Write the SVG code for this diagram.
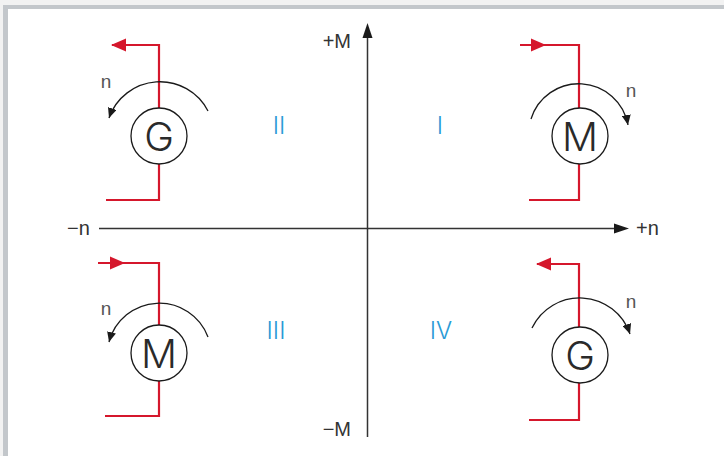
<svg xmlns="http://www.w3.org/2000/svg" width="724" height="456" viewBox="0 0 724 456">
<style>
.red{fill:none;stroke:#d5172c;stroke-width:2.2}
.redhead{fill:#d5172c}
.arc{fill:none;stroke:#1a1a1a;stroke-width:1.3}
.ring{fill:#fff;stroke:#1a1a1a;stroke-width:1.3}
.sym{font-family:Inter,"Liberation Sans",Arial,sans-serif;font-weight:300;font-size:40px;fill:#2a2a2a;text-anchor:middle}
.nlab{font-family:"Liberation Sans",Arial,sans-serif;font-size:19px;fill:#555;text-anchor:middle}
.axlab{font-family:"Liberation Sans",Arial,sans-serif;font-size:20px;fill:#333}
.quad{font-family:Inter,"Liberation Sans",Arial,sans-serif;font-weight:300;font-size:24px;fill:#2a9bd6;text-anchor:middle}
.axis{stroke:#333;stroke-width:1.5;fill:none}
</style>
<defs>
<marker id="arcHead" markerUnits="userSpaceOnUse" markerWidth="11" markerHeight="9" refX="10" refY="4.5" orient="auto">
<path d="M0,0 L10,4.5 L0,9 z" fill="#1a1a1a"/>
</marker>
</defs>
<rect x="0" y="0" width="724" height="456" fill="#f2f2f2"/>
<rect x="3" y="5" width="721" height="451" fill="#c3c7cb"/>
<rect x="8" y="9" width="716" height="447" fill="#ffffff"/>

<g id="axes">
<line class="axis" x1="367.5" y1="36" x2="367.5" y2="437"/>
<path d="M367.5,23 L372.5,38 L362.5,38 z" fill="#1a1a1a"/>
<line class="axis" x1="99" y1="228.5" x2="616" y2="228.5"/>
<path d="M629,228.5 L614,223.5 L614,233.5 z" fill="#1a1a1a"/>
<text class="axlab" x="351" y="48" text-anchor="end">+M</text>
<text class="axlab" x="351" y="436" text-anchor="end">−M</text>
<text class="axlab" x="67" y="235">−n</text>
<text class="axlab" x="636" y="235">+n</text>
</g>

<g id="quadrant-labels">
<text class="quad" x="279" y="134">II</text>
<text class="quad" x="440" y="134">I</text>
<text class="quad" x="276" y="339">III</text>
<text class="quad" x="441" y="339">IV</text>
</g>

<g id="connectors">
<path class="red" d="M112,45 H159 V108 M159,164 V200 H106"/>
<path class="redhead" d="M111,45 L126,38.5 L126,51.5 z"/>
<path class="red" d="M520,45 H579 V108 M579,164 V200 H529"/>
<path class="redhead" d="M546,45 L531,38.5 L531,51.5 z"/>
<path class="red" d="M98,263 H159 V325 M159,380 V416 H105"/>
<path class="redhead" d="M125,263 L110,256.5 L110,269.5 z"/>
<path class="red" d="M537,264 H579 V327 M579,382 V420 H529"/>
<path class="redhead" d="M536,264 L551,257.5 L551,270.5 z"/>
<path class="arc" d="M208,111 A54,54 0 0 0 109,118" marker-end="url(#arcHead)"/>
<path class="arc" d="M531,119 A50,50 0 0 1 628,125" marker-end="url(#arcHead)"/>
<path class="arc" d="M208,337 A52,52 0 0 0 109,342" marker-end="url(#arcHead)"/>
<path class="arc" d="M532,328 A53,53 0 0 1 630,334" marker-end="url(#arcHead)"/>
</g>

<g id="generator-II">
<circle class="ring" cx="159" cy="136" r="28"/>
<text class="sym" x="159" y="150.5">G</text>
<text class="nlab" x="106" y="88">n</text>
</g>
<g id="motor-I">
<circle class="ring" cx="580" cy="136" r="28"/>
<text class="sym" x="580" y="150.5">M</text>
<text class="nlab" x="631" y="97">n</text>
</g>
<g id="motor-III">
<circle class="ring" cx="159" cy="353" r="28"/>
<text class="sym" x="159" y="367.5">M</text>
<text class="nlab" x="106" y="315">n</text>
</g>
<g id="generator-IV">
<circle class="ring" cx="580" cy="355" r="28"/>
<text class="sym" x="580" y="369.5">G</text>
<text class="nlab" x="631" y="308">n</text>
</g>
</svg>
